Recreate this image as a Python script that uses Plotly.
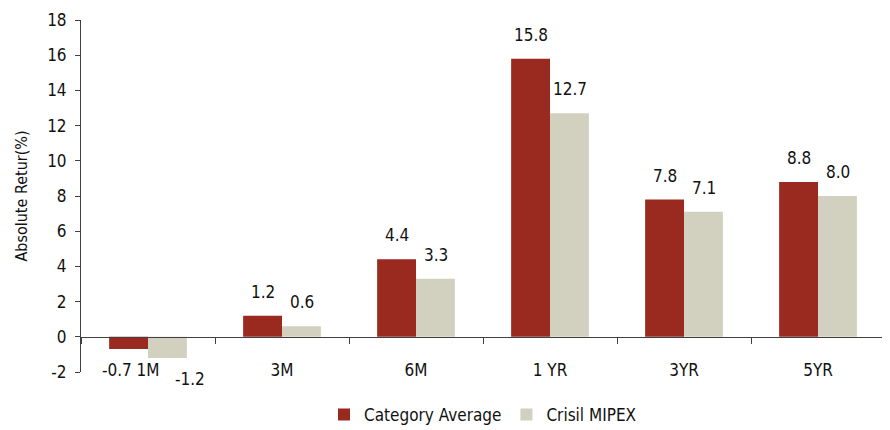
import plotly.graph_objects as go

categories = ["1M", "3M", "6M", "1 YR", "3YR", "5YR"]
category_average = [-0.7, 1.2, 4.4, 15.8, 7.8, 8.8]
crisil_mipex = [-1.2, 0.6, 3.3, 12.7, 7.1, 8.0]
series_names = ["Category Average", "Crisil MIPEX"]
y_ticks = list(range(-2, 20, 2))
y_tick_text = [str(v) for v in y_ticks]

RED = "#9A2920"
BEIGE = "#D2D0BE"
FONT = "DejaVu Sans Condensed, sans-serif"
AXIS_COLOR = "#404040"

fig = go.Figure()
fig.add_trace(go.Bar(x=categories, y=category_average, name=series_names[0],
                     marker=dict(color=RED, line=dict(width=0))))
fig.add_trace(go.Bar(x=categories, y=crisil_mipex, name=series_names[1],
                     marker=dict(color=BEIGE, line=dict(width=0))))
# invisible helper trace to give the zero-line axis its categories
fig.add_trace(go.Scatter(x=categories, y=[0] * len(categories), xaxis="x2", yaxis="y",
                         mode="markers", marker=dict(opacity=0), showlegend=False,
                         hoverinfo="skip"))

annotations = []
half = 19.5
for vals, sign in ((category_average, -1), (crisil_mipex, 1)):
    for c, v in zip(categories, vals):
        if v >= 0:
            annotations.append(dict(x=c, y=v, text=f"{v:.1f}", showarrow=False,
                                    xshift=sign * half, yshift=24, yanchor="middle",
                                    xanchor="center"))
        else:
            annotations.append(dict(x=c, y=v, text=f"{v:.1f}", showarrow=False,
                                    xshift=sign * half + 5, yshift=-21, yanchor="middle",
                                    xanchor="right" if sign < 0 else "left"))

fig.update_layout(
    width=890, height=430,
    margin=dict(l=73, r=13, t=12, b=66, autoexpand=False),
    paper_bgcolor="white", plot_bgcolor="white",
    font=dict(family=FONT, size=17, color="#111111"),
    barmode="group", bargap=0.42, bargroupgap=0,
    showlegend=True,
    legend=dict(orientation="h", x=0.5, xanchor="center", y=-0.122, yanchor="middle",
                font=dict(size=17), itemsizing="constant", traceorder="normal",
                itemwidth=30),
    annotations=annotations,
    xaxis=dict(type="category", categoryorder="array", categoryarray=categories,
               showline=False, ticks="", showgrid=False, zeroline=False, automargin=False,
               ticklabelstandoff=-14, tickfont=dict(size=17)),
    xaxis2=dict(type="category", categoryorder="array", categoryarray=categories,
                overlaying="x", matches="x", anchor="free", position=0.1,
                showline=True, linecolor=AXIS_COLOR, linewidth=1, automargin=False,
                ticks="outside", tickson="boundaries", ticklen=6,
                tickcolor=AXIS_COLOR, showticklabels=False, showgrid=False),
    yaxis=dict(range=[-2, 18], tickvals=y_ticks, ticktext=y_tick_text,
               showgrid=False, zeroline=False, automargin=False,
               showline=True, linecolor=AXIS_COLOR, linewidth=1,
               ticks="outside", ticklen=5, tickcolor=AXIS_COLOR,
               ticklabelstandoff=5, tickfont=dict(size=17),
               title=dict(text="Absolute Retur(%)", font=dict(size=16), standoff=15)),
)

fig.write_html("out.html")
